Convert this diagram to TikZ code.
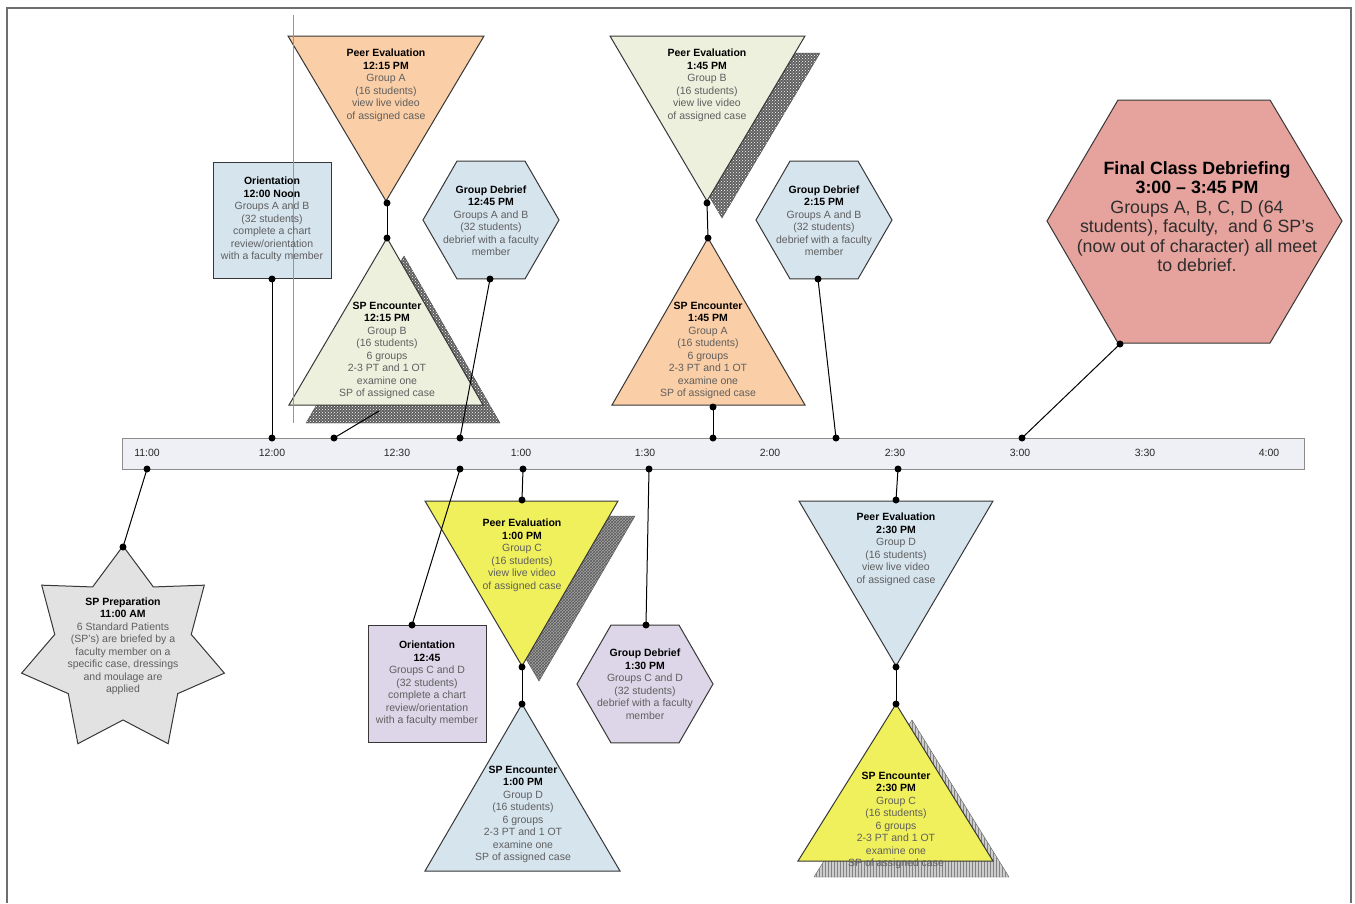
\documentclass[tikz,border=0pt]{standalone}
\usepackage{fontspec}
\setmainfont{Liberation Sans}
\usetikzlibrary{shapes.geometric,patterns}
\newcommand{\hd}[1]{\textcolor{black}{\textbf{#1}}}

\begin{document}
\begin{tikzpicture}[x=1pt,y=-1pt]
% Styles
\tikzstyle{none}=[]
\tikzstyle{dot}=[fill=black, shape=circle, minimum size=7pt, inner sep=0pt]
\tikzstyle{link}=[-, draw=black, line width=1pt]
\tikzstyle{txt}=[align=center, inner sep=0pt, text={rgb,255: red,95; green,95; blue,95}, font=\fontsize{10.5}{12.5}\selectfont]
\tikzstyle{bigtxt}=[align=center, inner sep=0pt, text={rgb,255: red,45; green,45; blue,45}, font=\fontsize{17.8}{19.5}\selectfont]
\tikzstyle{ticktxt}=[inner sep=0pt, text={rgb,255: red,40; green,40; blue,40}, font=\fontsize{10.5}{12}\selectfont]
\tikzstyle{outline}=[draw={rgb,255: red,55; green,55; blue,55}, line width=1pt]
\tikzstyle{peach}=[outline, fill={rgb,255: red,250; green,206; blue,166}]
\tikzstyle{cream}=[outline, fill={rgb,255: red,238; green,240; blue,222}]
\tikzstyle{paleblue}=[outline, fill={rgb,255: red,214; green,228; blue,238}]
\tikzstyle{yellow}=[outline, fill={rgb,255: red,240; green,240; blue,92}]
\tikzstyle{lavender}=[outline, fill={rgb,255: red,220; green,214; blue,232}]
\tikzstyle{salmon}=[outline, fill={rgb,255: red,230; green,162; blue,156}]
\tikzstyle{prepstar}=[outline, fill={rgb,255: red,226; green,226; blue,226}]
\tikzstyle{hexa}=[shape=regular polygon, regular polygon sides=6, inner sep=0pt, minimum size=136pt]
\tikzstyle{bar}=[draw={rgb,255: red,140; green,140; blue,140}, fill={rgb,255: red,238; green,240; blue,245}, inner sep=0pt]
\tikzstyle{darkshade}=[draw={rgb,255: red,70; green,70; blue,70}, fill={rgb,255: red,95; green,95; blue,95}, postaction={pattern=crosshatch dots, pattern color=white}]
\tikzstyle{midshade}=[draw={rgb,255: red,90; green,90; blue,90}, fill={rgb,255: red,165; green,165; blue,165}, postaction={pattern=crosshatch, pattern color={rgb,255: red,90; green,90; blue,90}}]
\tikzstyle{lightshade}=[draw={rgb,255: red,90; green,90; blue,90}, fill={rgb,255: red,205; green,205; blue,205}, postaction={pattern=vertical lines, pattern color={rgb,255: red,130; green,130; blue,130}}]

\useasboundingbox (0,0) rectangle (1355,903);
\draw[line width=2pt, draw={rgb,255: red,110; green,110; blue,110}] (7,903) -- (7,8) -- (1351,8) -- (1351,903);

% shadows
\draw[style=darkshade] (404,256) -- (500,423) -- (306,423) -- cycle;
\draw[style=darkshade] (625,53) -- (820,53) -- (722,218) -- cycle;
\draw[style=midshade] (442,516) -- (635,516) -- (539,681) -- cycle;
\draw[style=lightshade] (912,720) -- (1009,877) -- (814,877) -- cycle;

% shapes above the bar
\draw[style=peach] (288,36) -- (484,36) -- (386,201) -- cycle;
\draw[style=cream] (387,238) -- (483,405) -- (289,405) -- cycle;
\draw[style=paleblue] (213,162) rectangle (331,278);
\node[style=hexa, paleblue] (gd1245) at (491,220) {};
\draw[style=cream] (610,36) -- (805,36) -- (707,201) -- cycle;
\draw[style=peach] (708,238) -- (805,405) -- (612,405) -- cycle;
\node[style=hexa, paleblue] (gd215) at (824,220) {};
\draw[style=salmon] (1118,100) -- (1270,100) -- (1342,221) -- (1270,343) -- (1118,343) -- (1047,221) -- cycle;

% shapes below the bar
\draw[style=prepstar, shift={(123,650)}] (-90:104)
  \foreach \k [evaluate=\k as \rr using {ifthenelse(mod(\k,2)==0,104,70)}] in {1,...,13} {-- ({-90+\k*25.714}:\rr)} -- cycle;
\draw[style=lavender] (368,625) rectangle (486,742);
\draw[style=yellow] (425,501) -- (618,501) -- (522,666) -- cycle;
\draw[style=paleblue] (522,704) -- (620,871) -- (425,871) -- cycle;
\node[style=hexa, lavender] (gd130) at (645,684) {};
\draw[style=paleblue] (799,501) -- (993,501) -- (896,666) -- cycle;
\draw[style=yellow] (896,704) -- (993,861) -- (798,861) -- cycle;

\draw[draw={rgb,255: red,150; green,150; blue,150}, line width=0.4pt] (293,15) -- (293,423);

% time bar
\node[style=bar, minimum width=1182pt, minimum height=31pt] (bar) at (713,453.5) {};
\foreach \t/\x in {11:00/147, 12:00/272, 12:30/397, 1:00/521, 1:30/645, 2:00/770, 2:30/895, 3:00/1020, 3:30/1145, 4:00/1269}
  \node[style=ticktxt] (tick\x) at (\x,453) {\t};

% dots
\node[style=dot] (1) at (272,438) {};
\node[style=dot] (2) at (334,438) {};
\node[style=dot] (3) at (460,438) {};
\node[style=dot] (4) at (713,438) {};
\node[style=dot] (5) at (836,438) {};
\node[style=dot] (6) at (1022,438) {};
\node[style=dot] (7) at (147,469) {};
\node[style=dot] (8) at (460,469) {};
\node[style=dot] (9) at (523,469) {};
\node[style=dot] (10) at (649,469) {};
\node[style=dot] (11) at (898,469) {};
\node[style=dot] (12) at (272,279) {};
\coordinate (13) at (379,411);
\node[style=dot] (14) at (490,279) {};
\node[style=dot] (15) at (713,407) {};
\node[style=dot] (16) at (818,279) {};
\node[style=dot] (17) at (1120,344) {};
\node[style=dot] (18) at (387,203) {};
\node[style=dot] (19) at (387,238) {};
\node[style=dot] (20) at (707,203) {};
\node[style=dot] (21) at (708,238) {};
\node[style=dot] (22) at (123,547) {};
\node[style=dot] (23) at (412,625) {};
\node[style=dot] (24) at (522,500) {};
\node[style=dot] (25) at (646,625) {};
\node[style=dot] (26) at (896,500) {};
\node[style=dot] (27) at (522,667) {};
\node[style=dot] (28) at (522,704) {};
\node[style=dot] (29) at (896,667) {};
\node[style=dot] (30) at (896,704) {};

\draw[style=link] (1.center) to (12.center);
\draw[style=link] (2.center) to (13);
\draw[style=link] (3.center) to (14.center);
\draw[style=link] (4.center) to (15.center);
\draw[style=link] (5.center) to (16.center);
\draw[style=link] (6.center) to (17.center);
\draw[style=link] (18.center) to (19.center);
\draw[style=link] (20.center) to (21.center);
\draw[style=link] (7.center) to (22.center);
\draw[style=link] (8.center) to (23.center);
\draw[style=link] (9.center) to (24.center);
\draw[style=link] (10.center) to (25.center);
\draw[style=link] (11.center) to (26.center);
\draw[style=link] (27.center) to (28.center);
\draw[style=link] (29.center) to (30.center);

% texts
\node[style=txt] (pe1215) at (386,85.5) {\hd{Peer Evaluation}\\\hd{12:15 PM}\\Group A\\(16 students)\\view live video\\of assigned case};
\node[style=txt] (sp1215) at (387,350.5) {\hd{SP Encounter}\\\hd{12:15 PM}\\Group B\\(16 students)\\6 groups\\2-3 PT and 1 OT\\examine one\\SP of assigned case};
\node[style=txt] (or1200) at (272,219.5) {\hd{Orientation}\\\hd{12:00 Noon}\\Groups A and B\\(32 students)\\complete a chart\\review/orientation\\with a faculty member};
\node[style=txt] (db1245) at (491,220.5) {\hd{Group Debrief}\\\hd{12:45 PM}\\Groups A and B\\(32 students)\\debrief with a faculty\\member};
\node[style=txt] (pe145) at (707,85.5) {\hd{Peer Evaluation}\\\hd{1:45 PM}\\Group B\\(16 students)\\view live video\\of assigned case};
\node[style=txt] (sp145) at (708,350.5) {\hd{SP Encounter}\\\hd{1:45 PM}\\Group A\\(16 students)\\6 groups\\2-3 PT and 1 OT\\examine one\\SP of assigned case};
\node[style=txt] (db215) at (824,220.5) {\hd{Group Debrief}\\\hd{2:15 PM}\\Groups A and B\\(32 students)\\debrief with a faculty\\member};
\node[style=bigtxt] (final) at (1197,216.5) {\hd{Final Class Debriefing}\\\hd{3:00 -- 3:45 PM}\\Groups A, B, C, D (64\\students), faculty,~ and 6 SP's\\(now out of character) all meet\\to debrief.};
\node[style=txt] (prep) at (123,646.5) {\hd{SP Preparation}\\\hd{11:00 AM}\\6 Standard Patients\\(SP's) are briefed by a\\faculty member on a\\specific case, dressings\\and moulage are\\applied};
\node[style=txt] (or1245) at (427,683.5) {\hd{Orientation}\\\hd{12:45}\\Groups C and D\\(32 students)\\complete a chart\\review/orientation\\with a faculty member};
\node[style=txt] (pe100) at (522,555.5) {\hd{Peer Evaluation}\\\hd{1:00 PM}\\Group C\\(16 students)\\view live video\\of assigned case};
\node[style=txt] (db130) at (645,684) {\hd{Group Debrief}\\\hd{1:30 PM}\\Groups C and D\\(32 students)\\debrief with a faculty\\member};
\node[style=txt] (sp100) at (523,814.5) {\hd{SP Encounter}\\\hd{1:00 PM}\\Group D\\(16 students)\\6 groups\\2-3 PT and 1 OT\\examine one\\SP of assigned case};
\node[style=txt] (pe230) at (896,549.5) {\hd{Peer Evaluation}\\\hd{2:30 PM}\\Group D\\(16 students)\\view live video\\of assigned case};
\node[style=txt] (sp230) at (896,820.5) {\hd{SP Encounter}\\\hd{2:30 PM}\\Group C\\(16 students)\\6 groups\\2-3 PT and 1 OT\\examine one\\SP of assigned case};
\end{tikzpicture}
\end{document}
